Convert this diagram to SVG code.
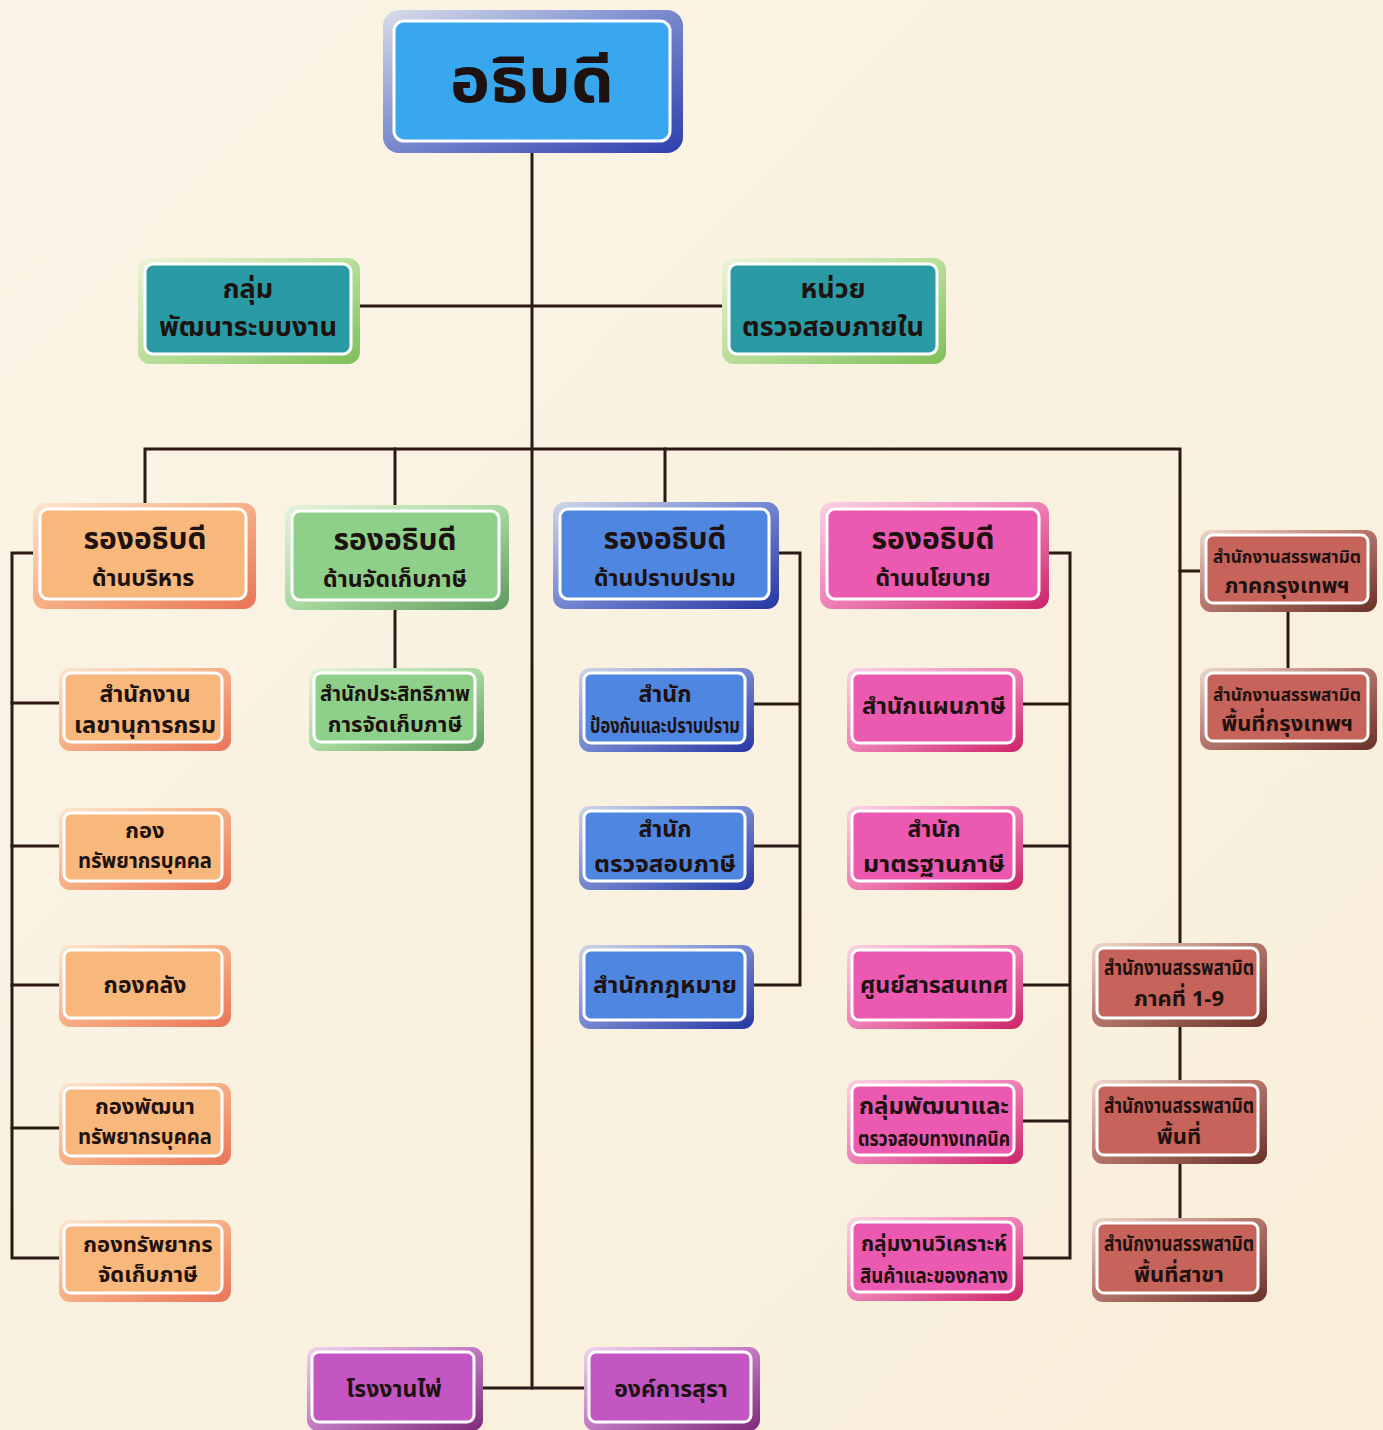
<svg xmlns="http://www.w3.org/2000/svg" width="1383" height="1430" viewBox="0 0 1383 1430">
<defs>
<linearGradient id="bg" x1="0" y1="0" x2="1" y2="1"><stop offset="0" stop-color="#FBF4E6"/><stop offset="1" stop-color="#F8EEDA"/></linearGradient>
<linearGradient id="fTop" x1="0" y1="0" x2="1" y2="1"><stop offset="0" stop-color="#D8DDE8"/><stop offset="0.45" stop-color="#7F8FD0"/><stop offset="1" stop-color="#2E3FAE"/></linearGradient>
<linearGradient id="fTeal" x1="0" y1="0" x2="1" y2="1"><stop offset="0" stop-color="#EEF3D8"/><stop offset="0.5" stop-color="#B8DE9A"/><stop offset="1" stop-color="#7EBF5A"/></linearGradient>
<linearGradient id="fOr" x1="0" y1="0" x2="1" y2="1"><stop offset="0" stop-color="#FCE6CF"/><stop offset="0.5" stop-color="#F6AE84"/><stop offset="1" stop-color="#EA7458"/></linearGradient>
<linearGradient id="fGr" x1="0" y1="0" x2="1" y2="1"><stop offset="0" stop-color="#E6F3DE"/><stop offset="0.5" stop-color="#A9D9A0"/><stop offset="1" stop-color="#5E9A5E"/></linearGradient>
<linearGradient id="fBl" x1="0" y1="0" x2="1" y2="1"><stop offset="0" stop-color="#D0D6E6"/><stop offset="0.45" stop-color="#7A8ED4"/><stop offset="1" stop-color="#2536A2"/></linearGradient>
<linearGradient id="fPk" x1="0" y1="0" x2="1" y2="1"><stop offset="0" stop-color="#FAD3E4"/><stop offset="0.5" stop-color="#EE7FB6"/><stop offset="1" stop-color="#CC2468"/></linearGradient>
<linearGradient id="fBr" x1="0" y1="0" x2="1" y2="1"><stop offset="0" stop-color="#EED8CC"/><stop offset="0.45" stop-color="#B87A70"/><stop offset="1" stop-color="#6A3028"/></linearGradient>
<linearGradient id="fPu" x1="0" y1="0" x2="1" y2="1"><stop offset="0" stop-color="#F0D2EE"/><stop offset="0.5" stop-color="#C078C0"/><stop offset="1" stop-color="#7E2A7A"/></linearGradient>
<style>
.ln{stroke:#2B1A14;stroke-width:3;fill:none;stroke-linecap:square}
.in{stroke:#FFFFFF;stroke-width:3}
.t{font-family:"Noto Sans Thai","Noto Sans","DejaVu Sans","Noto Sans CJK SC",sans-serif;font-weight:bold;fill:#1E1210;text-anchor:middle}
.t56{font-size:62px}
.t32{font-size:30px}
.t24{font-size:23px}
.t22{font-size:22px}
.t19{font-size:21px}
.t18{font-size:18px}
.cTop{fill:#39A7EE}
.cTeal{fill:#2A9BA5}
.cOr{fill:#F8B77B}
.cGr{fill:#8ED08A}
.cBl{fill:#4F86E0}
.cPk{fill:#EC59B0}
.cBr{fill:#C6635A}
.cPu{fill:#C456C4}
</style>
</defs>
<rect x="0" y="0" width="1383" height="1430" fill="url(#bg)"/>

<g id="connectors">
<path class="ln" d="M532 152 V1388"/>
<path class="ln" d="M360 306 H722"/>
<path class="ln" d="M145 505 V449 H1180 V943"/>
<path class="ln" d="M395 449 V505"/>
<path class="ln" d="M665 449 V505"/>
<path class="ln" d="M395 608 V668"/>
<path class="ln" d="M35 553 H12 V1258 H60"/>
<path class="ln" d="M12 703 H60 M12 846 H60 M12 985 H60 M12 1128 H60"/>
<path class="ln" d="M778 553 H800 V985 H752 M800 704 H752 M800 846 H752"/>
<path class="ln" d="M1048 553 H1070 V1258 H1022 M1070 704 H1022 M1070 846 H1022 M1070 985 H1022 M1070 1121 H1022"/>
<path class="ln" d="M1180 571 H1200"/>
<path class="ln" d="M1288 610 V668"/>
<path class="ln" d="M1180 1025 V1080 M1180 1163 V1218"/>
<path class="ln" d="M482 1388 H585"/>
</g>

<g id="n-director">
<rect x="383" y="10" width="300" height="143" rx="16" fill="url(#fTop)"/>
<rect x="394" y="21" width="276" height="120" rx="10" class="in cTop"/>
<text class="t t56" x="532" y="102" textLength="164" lengthAdjust="spacingAndGlyphs">อธิบดี</text>
</g>

<g id="n-dev-group">
<rect x="138" y="258" width="222" height="106" rx="12" fill="url(#fTeal)"/>
<rect x="145" y="264" width="206" height="90" rx="8" class="in cTeal"/>
<text class="t t24" x="248" y="298" style="font-size:27px">กลุ่ม</text>
<text class="t t24" x="248" y="336" style="font-size:27px" textLength="178" lengthAdjust="spacingAndGlyphs">พัฒนาระบบงาน</text>
</g>

<g id="n-audit">
<rect x="722" y="258" width="224" height="106" rx="12" fill="url(#fTeal)"/>
<rect x="729" y="264" width="208" height="90" rx="8" class="in cTeal"/>
<text class="t t24" x="833" y="298" style="font-size:27px">หน่วย</text>
<text class="t t24" x="833" y="336" style="font-size:27px" textLength="182" lengthAdjust="spacingAndGlyphs">ตรวจสอบภายใน</text>
</g>

<g id="n-dep-admin">
<rect x="33" y="503" width="223" height="106" rx="12" fill="url(#fOr)"/>
<rect x="40" y="509" width="206" height="90" rx="8" class="in cOr"/>
<text class="t t32" x="145" y="549">รองอธิบดี</text>
<text class="t t24" x="143" y="586">ด้านบริหาร</text>
</g>

<g id="n-dep-collect">
<rect x="285" y="505" width="224" height="105" rx="12" fill="url(#fGr)"/>
<rect x="292" y="511" width="207" height="89" rx="8" class="in cGr"/>
<text class="t t32" x="395" y="550">รองอธิบดี</text>
<text class="t t24" x="395" y="587">ด้านจัดเก็บภาษี</text>
</g>

<g id="n-dep-suppress">
<rect x="553" y="502" width="226" height="107" rx="12" fill="url(#fBl)"/>
<rect x="560" y="509" width="209" height="90" rx="8" class="in cBl"/>
<text class="t t32" x="665" y="549">รองอธิบดี</text>
<text class="t t24" x="665" y="586">ด้านปราบปราม</text>
</g>

<g id="n-dep-policy">
<rect x="820" y="502" width="229" height="107" rx="12" fill="url(#fPk)"/>
<rect x="827" y="509" width="212" height="90" rx="8" class="in cPk"/>
<text class="t t32" x="933" y="549">รองอธิบดี</text>
<text class="t t24" x="933" y="586">ด้านนโยบาย</text>
</g>

<g id="n-bkk-region">
<rect x="1200" y="530" width="177" height="82" rx="11" fill="url(#fBr)"/>
<rect x="1206" y="535" width="162" height="68" rx="7" class="in cBr"/>
<text class="t t18" x="1287" y="563" textLength="148" lengthAdjust="spacingAndGlyphs">สำนักงานสรรพสามิต</text>
<text class="t t22" x="1287" y="593">ภาคกรุงเทพฯ</text>
</g>

<g id="n-bkk-area">
<rect x="1200" y="668" width="177" height="82" rx="11" fill="url(#fBr)"/>
<rect x="1206" y="673" width="162" height="68" rx="7" class="in cBr"/>
<text class="t t18" x="1287" y="701" textLength="148" lengthAdjust="spacingAndGlyphs">สำนักงานสรรพสามิต</text>
<text class="t t22" x="1287" y="731">พื้นที่กรุงเทพฯ</text>
</g>

<g id="n-secretary">
<rect x="59" y="668" width="172" height="83" rx="11" fill="url(#fOr)"/>
<rect x="64" y="673" width="158" height="69" rx="7" class="in cOr"/>
<text class="t t24" x="145" y="702">สำนักงาน</text>
<text class="t t24" x="145" y="733" textLength="142" lengthAdjust="spacingAndGlyphs">เลขานุการกรม</text>
</g>

<g id="n-hr">
<rect x="59" y="808" width="172" height="82" rx="11" fill="url(#fOr)"/>
<rect x="64" y="813" width="158" height="68" rx="7" class="in cOr"/>
<text class="t t22" x="145" y="838">กอง</text>
<text class="t t22" x="145" y="868" textLength="134" lengthAdjust="spacingAndGlyphs">ทรัพยากรบุคคล</text>
</g>

<g id="n-finance">
<rect x="59" y="945" width="172" height="82" rx="11" fill="url(#fOr)"/>
<rect x="64" y="950" width="158" height="68" rx="7" class="in cOr"/>
<text class="t t24" x="145" y="993">กองคลัง</text>
</g>

<g id="n-hrdev">
<rect x="59" y="1083" width="172" height="82" rx="11" fill="url(#fOr)"/>
<rect x="64" y="1088" width="158" height="68" rx="7" class="in cOr"/>
<text class="t t22" x="145" y="1114">กองพัฒนา</text>
<text class="t t22" x="145" y="1144" textLength="134" lengthAdjust="spacingAndGlyphs">ทรัพยากรบุคคล</text>
</g>

<g id="n-taxres">
<rect x="59" y="1220" width="172" height="82" rx="11" fill="url(#fOr)"/>
<rect x="64" y="1225" width="158" height="68" rx="7" class="in cOr"/>
<text class="t t22" x="148" y="1252">กองทรัพยากร</text>
<text class="t t22" x="148" y="1282">จัดเก็บภาษี</text>
</g>

<g id="n-efficiency">
<rect x="309" y="668" width="175" height="83" rx="11" fill="url(#fGr)"/>
<rect x="314" y="673" width="161" height="69" rx="7" class="in cGr"/>
<text class="t t22" x="395" y="701" textLength="150" lengthAdjust="spacingAndGlyphs">สำนักประสิทธิภาพ</text>
<text class="t t22" x="395" y="732">การจัดเก็บภาษี</text>
</g>

<g id="n-prevent">
<rect x="579" y="668" width="175" height="84" rx="11" fill="url(#fBl)"/>
<rect x="584" y="673" width="161" height="70" rx="7" class="in cBl"/>
<text class="t t24" x="665" y="702">สำนัก</text>
<text class="t t19" x="665" y="733" textLength="150" lengthAdjust="spacingAndGlyphs">ป้องกันและปราบปราม</text>
</g>

<g id="n-taxaudit">
<rect x="579" y="806" width="175" height="84" rx="11" fill="url(#fBl)"/>
<rect x="584" y="811" width="161" height="70" rx="7" class="in cBl"/>
<text class="t t24" x="665" y="837">สำนัก</text>
<text class="t t24" x="665" y="872" textLength="142" lengthAdjust="spacingAndGlyphs">ตรวจสอบภาษี</text>
</g>

<g id="n-legal">
<rect x="579" y="945" width="175" height="84" rx="11" fill="url(#fBl)"/>
<rect x="584" y="950" width="161" height="70" rx="7" class="in cBl"/>
<text class="t t24" x="665" y="993" textLength="144" lengthAdjust="spacingAndGlyphs">สำนักกฎหมาย</text>
</g>

<g id="n-taxplan">
<rect x="847" y="668" width="176" height="84" rx="11" fill="url(#fPk)"/>
<rect x="852" y="673" width="162" height="70" rx="7" class="in cPk"/>
<text class="t t24" x="934" y="714" textLength="144" lengthAdjust="spacingAndGlyphs">สำนักแผนภาษี</text>
</g>

<g id="n-taxstd">
<rect x="847" y="806" width="176" height="84" rx="11" fill="url(#fPk)"/>
<rect x="852" y="811" width="162" height="70" rx="7" class="in cPk"/>
<text class="t t24" x="934" y="837">สำนัก</text>
<text class="t t24" x="934" y="872" textLength="142" lengthAdjust="spacingAndGlyphs">มาตรฐานภาษี</text>
</g>

<g id="n-ict">
<rect x="847" y="945" width="176" height="84" rx="11" fill="url(#fPk)"/>
<rect x="852" y="950" width="162" height="70" rx="7" class="in cPk"/>
<text class="t t24" x="934" y="993" textLength="148" lengthAdjust="spacingAndGlyphs">ศูนย์สารสนเทศ</text>
</g>

<g id="n-techdev">
<rect x="847" y="1080" width="176" height="84" rx="11" fill="url(#fPk)"/>
<rect x="852" y="1085" width="162" height="70" rx="7" class="in cPk"/>
<text class="t t24" x="934" y="1114" textLength="150" lengthAdjust="spacingAndGlyphs">กลุ่มพัฒนาและ</text>
<text class="t t19" x="934" y="1146" textLength="152" lengthAdjust="spacingAndGlyphs">ตรวจสอบทางเทคนิค</text>
</g>

<g id="n-goods">
<rect x="847" y="1217" width="176" height="84" rx="11" fill="url(#fPk)"/>
<rect x="852" y="1222" width="162" height="70" rx="7" class="in cPk"/>
<text class="t t22" x="934" y="1251" textLength="146" lengthAdjust="spacingAndGlyphs">กลุ่มงานวิเคราะห์</text>
<text class="t t22" x="934" y="1283" textLength="148" lengthAdjust="spacingAndGlyphs">สินค้าและของกลาง</text>
</g>

<g id="n-region">
<rect x="1092" y="943" width="175" height="84" rx="11" fill="url(#fBr)"/>
<rect x="1097" y="948" width="161" height="70" rx="7" class="in cBr"/>
<text class="t t19" x="1179" y="975" textLength="150" lengthAdjust="spacingAndGlyphs">สำนักงานสรรพสามิต</text>
<text class="t t22" x="1179" y="1006">ภาคที่ 1-9</text>
</g>

<g id="n-area">
<rect x="1092" y="1080" width="175" height="84" rx="11" fill="url(#fBr)"/>
<rect x="1097" y="1085" width="161" height="70" rx="7" class="in cBr"/>
<text class="t t19" x="1179" y="1113" textLength="150" lengthAdjust="spacingAndGlyphs">สำนักงานสรรพสามิต</text>
<text class="t t22" x="1179" y="1144">พื้นที่</text>
</g>

<g id="n-branch">
<rect x="1092" y="1218" width="175" height="84" rx="11" fill="url(#fBr)"/>
<rect x="1097" y="1223" width="161" height="70" rx="7" class="in cBr"/>
<text class="t t19" x="1179" y="1251" textLength="150" lengthAdjust="spacingAndGlyphs">สำนักงานสรรพสามิต</text>
<text class="t t22" x="1179" y="1282">พื้นที่สาขา</text>
</g>

<g id="n-cards">
<rect x="307" y="1347" width="176" height="84" rx="11" fill="url(#fPu)"/>
<rect x="312" y="1352" width="162" height="70" rx="7" class="in cPu"/>
<text class="t t24" x="394" y="1397">โรงงานไพ่</text>
</g>

<g id="n-liquor">
<rect x="584" y="1347" width="176" height="84" rx="11" fill="url(#fPu)"/>
<rect x="589" y="1352" width="162" height="70" rx="7" class="in cPu"/>
<text class="t t24" x="671" y="1397">องค์การสุรา</text>
</g>
</svg>
